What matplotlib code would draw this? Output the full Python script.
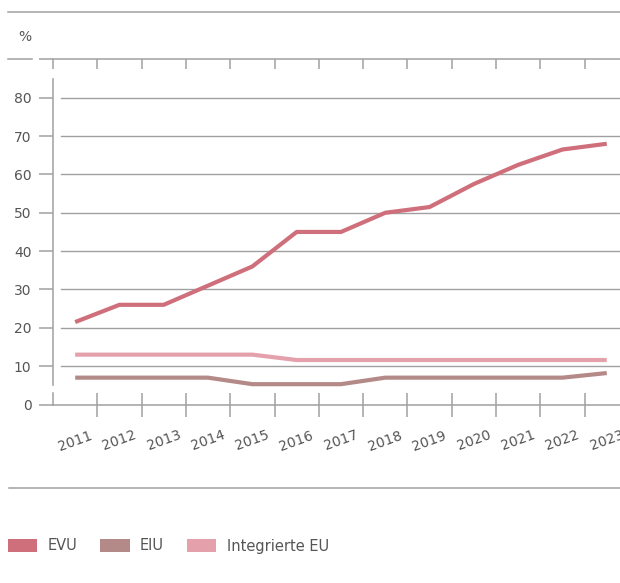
import matplotlib
matplotlib.use("Agg")
import matplotlib.pyplot as plt
from matplotlib.patches import Patch
from matplotlib.lines import Line2D
from matplotlib.ticker import FixedLocator

jahre = ["2011", "2012", "2013", "2014", "2015", "2016", "2017",
         "2018", "2019", "2020", "2021", "2022", "2023"]
evu = [21.5, 26, 26, 31, 36, 45, 45, 50, 51.5, 57.5, 62.5, 66.5, 68]
eiu = [7, 7, 7, 7, 5.3, 5.3, 5.3, 7, 7, 7, 7, 7, 8.2]
integrierte_eu = [13, 13, 13, 13, 13, 11.6, 11.6, 11.6, 11.6, 11.6, 11.6, 11.6, 11.6]
y_ticks = [0, 10, 20, 30, 40, 50, 60, 70, 80]

farben = {"EVU": "#cf6f7c", "EIU": "#b48a88", "Integrierte EU": "#e4a1ab"}
grau = "#a0a0a0"
text_grau = "#555555"

W, H = 620, 583
fig = plt.figure(figsize=(W / 100, H / 100), dpi=100)

# axes band: 13 categories of ~44.3 px starting at x=53, right edge clipped
links, breite = 53, 13 * 44.3
unten, oben = 404.5, 59.4
ax = fig.add_axes([links / W, 1 - unten / H, breite / W, (unten - oben) / H])

x = list(range(len(jahre)))
ax.plot(x, evu, color=farben["EVU"], lw=3, solid_capstyle="butt", solid_joinstyle="round", zorder=3)
ax.plot(x, eiu, color=farben["EIU"], lw=3, solid_capstyle="butt", solid_joinstyle="round", zorder=3)
ax.plot(x, integrierte_eu, color=farben["Integrierte EU"], lw=3, solid_capstyle="butt",
        solid_joinstyle="round", zorder=3)

ax.set_xlim(-0.5, len(jahre) - 0.5)
ax.set_ylim(0, 90)

# gridlines start a little right of the y axis
for y in y_ticks[1:]:
    ax.axhline(y, xmin=8 / breite, xmax=1, color=grau, lw=1.0, zorder=1)

for s in ["top", "right"]:
    ax.spines[s].set_visible(False)
ax.spines["left"].set_bounds(5.1, 84.9)
ax.spines["left"].set_color(grau)
ax.spines["bottom"].set_color(grau)
ax.spines["left"].set_linewidth(1.1)
ax.spines["bottom"].set_linewidth(1.1)

# y ticks (90 only as the short stub at the top line)
ax.set_yticks(y_ticks + [90])
ax.set_yticklabels([str(v) for v in y_ticks] + [""])
ax.tick_params(axis="y", direction="out", length=10, width=1.1, color=grau,
               labelsize=10, labelcolor=text_grau, pad=5.5)

# x ticks on category boundaries, labels at centres
ax.set_xticks([i + 0.5 for i in range(len(jahre))])
ax.set_xticklabels([])
ax.xaxis.set_minor_locator(FixedLocator(x))
ax.set_xticks(x, minor=True)
ax.set_xticklabels(jahre, minor=True, rotation=20, ha="center", va="top")
ax.tick_params(axis="x", which="major", direction="inout", length=17, width=1.1, color=grau)
ax.tick_params(axis="x", which="minor", length=0, labelsize=10, labelcolor=text_grau, pad=17)
ax.plot([-0.5, -0.5], [0, 3], color=grau, lw=1.1, clip_on=False)

# top axis line with downward ticks
sec = ax.secondary_xaxis("top")
sec.set_xticks([i - 0.5 for i in range(len(jahre) + 1)])
sec.tick_params(direction="in", length=7.2, width=1.1, color=grau, labeltop=False)
sec.spines["top"].set_color(grau)
sec.spines["top"].set_linewidth(1.1)

# decorative frame lines
def hlinie(x0, x1, y):
    fig.add_artist(Line2D([x0 / W, x1 / W], [1 - y / H, 1 - y / H], color=grau, lw=1.1))

hlinie(8, W, 12.3)
hlinie(8, 32, 59.4)
hlinie(9, W, 488)

fig.text(25 / W, 1 - 37 / H, "%", ha="center", va="center", fontsize=10, color=text_grau)

handles = [Patch(facecolor=c, edgecolor="none", label=k) for k, c in farben.items()]
fig.legend(handles=handles, loc="center left", bbox_to_anchor=(8 / W, 1 - 546 / H),
           ncol=3, frameon=False, fontsize=10.5, labelcolor=text_grau,
           handlelength=2.0, handleheight=1.05, handletextpad=0.7,
           columnspacing=1.6, borderpad=0, borderaxespad=0)

fig.savefig("out.png", dpi=100)
